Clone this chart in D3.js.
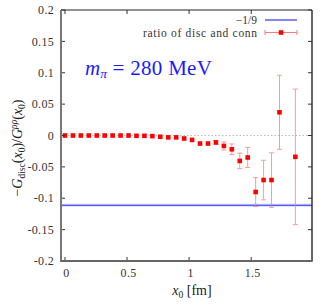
<!DOCTYPE html>
<html><head><meta charset="utf-8">
<script src="https://cdn.jsdelivr.net/npm/d3@7"></script>
<style>body{margin:0;background:#fff}svg{display:block}text{font-family:"Liberation Serif","DejaVu Serif",serif}</style>
</head><body><svg id="c" width="324" height="305"></svg>
<script>
const latticeIdx = [0,1,2,3,4,5,6,7,8,9,10,11,12,13,14,15,16,17,18,19,20,21,22,23,24,25,26,27,29];
const spacing = 0.064;
const ratio = [0,0,0,0,0,0,0,0,0,-0.0005,-0.0005,-0.001,-0.002,-0.003,-0.003,-0.0048,-0.007,-0.0128,-0.0128,-0.011,-0.0166,-0.022,-0.0405,-0.035,-0.090,-0.071,-0.071,0.037,-0.034];
const ratioErr = [0,0,0,0,0,0,0,0,0,0,0,0,0,0,0,0,0.0005,0.001,0.001,0.003,0.0064,0.0085,0.0123,0.016,0.023,0.0315,0.0434,0.059,0.108];
const yTicks = [0.2,0.15,0.1,0.05,0,-0.05,-0.1,-0.15,-0.2];
const xTicks = [0,0.5,1,1.5];
const refValue = -1/9;

const svg = d3.select("#c");
const L=61,R=312,T=10,B=261;
const x = d3.scaleLinear().domain([-0.032,1.99]).range([L,R]);
const y = d3.scaleLinear().domain([-0.2,0.2]).range([B,T]);
const data = latticeIdx.map((n,i)=>({x:n*spacing,v:ratio[i],e:ratioErr[i]}));

// zero dotted line
svg.append("line").attr("x1",L).attr("x2",R).attr("y1",y(0)).attr("y2",y(0))
  .attr("stroke","#aaa").attr("stroke-width",0.8).attr("stroke-dasharray","1.5,2");
// -1/9 line
svg.append("line").attr("x1",L).attr("x2",R).attr("y1",y(refValue)).attr("y2",y(refValue))
  .attr("stroke","#d4d4ff").attr("stroke-width",3);
svg.append("line").attr("x1",L).attr("x2",R).attr("y1",y(refValue)).attr("y2",y(refValue))
  .attr("stroke","#3333ee").attr("stroke-width",1.1);

// error bars
const eb = svg.append("g").attr("stroke","#f47c7c").attr("stroke-width",1).attr("opacity",0.75);
data.filter(d=>d.e>0.0015).forEach(d=>{
  eb.append("line").attr("x1",x(d.x)).attr("x2",x(d.x)).attr("y1",y(d.v+d.e)).attr("y2",y(d.v-d.e));
  [d.v+d.e,d.v-d.e].forEach(v=>eb.append("line").attr("x1",x(d.x)-2.5).attr("x2",x(d.x)+2.5).attr("y1",y(v)).attr("y2",y(v)));
});
// points
svg.append("g").selectAll("rect").data(data).join("rect")
  .attr("x",d=>x(d.x)-2.3).attr("y",d=>y(d.v)-2.3).attr("width",4.6).attr("height",4.6).attr("fill","#f00");

// axes ticks
const ax = svg.append("g").attr("stroke","#333").attr("stroke-width",1);
yTicks.forEach(t=>{
  ax.append("line").attr("x1",L).attr("x2",L+4).attr("y1",y(t)).attr("y2",y(t));
  ax.append("line").attr("x1",R-4).attr("x2",R).attr("y1",y(t)).attr("y2",y(t));
});
xTicks.forEach(t=>{
  ax.append("line").attr("x1",x(t)).attr("x2",x(t)).attr("y1",B).attr("y2",B-4);
  ax.append("line").attr("x1",x(t)).attr("x2",x(t)).attr("y1",T).attr("y2",T+4);
});
// frame
svg.append("line").attr("x1",L).attr("x2",R).attr("y1",T).attr("y2",T).attr("stroke","#222").attr("stroke-width",1);
svg.append("line").attr("x1",R).attr("x2",R).attr("y1",T).attr("y2",B).attr("stroke","#333").attr("stroke-width",1.5);
svg.append("line").attr("x1",L).attr("x2",L).attr("y1",T).attr("y2",B+1).attr("stroke","#777").attr("stroke-width",2);
svg.append("line").attr("x1",L).attr("x2",R+0.7).attr("y1",B).attr("y2",B).attr("stroke","#666").attr("stroke-width",2);

// tick labels
const tl = svg.append("g").attr("font-size",12).attr("fill","#333");
yTicks.forEach(t=>tl.append("text").attr("x",54).attr("y",y(t)).attr("dy","0.35em").attr("text-anchor","end").attr("letter-spacing",0.3).text(String(t)));
xTicks.forEach(t=>tl.append("text").attr("x",x(t)+1.5).attr("y",277).attr("text-anchor","middle").attr("letter-spacing",0.3).text(String(t)));

// x title
const xt = svg.append("text").attr("x",192).attr("y",295).attr("text-anchor","middle").attr("font-size",14).attr("fill","#222");
xt.append("tspan").attr("font-style","italic").text("x");
xt.append("tspan").attr("font-size",9.5).attr("dy",3).text("0");
xt.append("tspan").attr("dy",-3).text(" [fm]");

// y title
const yt = svg.append("text").attr("transform","translate(22,148) rotate(-90)").attr("text-anchor","middle").attr("font-size",14).attr("fill","#222");
yt.append("tspan").text("−");
yt.append("tspan").attr("font-style","italic").text("G");
yt.append("tspan").attr("font-size",9.5).attr("dy",3).text("disc");
yt.append("tspan").attr("dy",-3).text("(");
yt.append("tspan").attr("font-style","italic").text("x");
yt.append("tspan").attr("font-size",9.5).attr("dy",3).text("0");
yt.append("tspan").attr("dy",-3).text(")/");
yt.append("tspan").attr("font-style","italic").text("G");
yt.append("tspan").attr("font-size",9.5).attr("font-style","italic").attr("dy",-5).text("ρρ");
yt.append("tspan").attr("dy",5).text("(");
yt.append("tspan").attr("font-style","italic").text("x");
yt.append("tspan").attr("font-size",9.5).attr("dy",3).text("0");
yt.append("tspan").attr("dy",-3).text(")");

// annotation
const an = svg.append("text").attr("x",85).attr("y",75).attr("font-size",21).attr("fill","#1a1aff");
an.append("tspan").attr("font-style","italic").text("m");
an.append("tspan").attr("font-style","italic").attr("font-size",13.5).attr("dy",3).text("π");
an.append("tspan").attr("dy",-3).attr("letter-spacing",0.3).text(" = 280 MeV");

// legend
const lg = svg.append("g").attr("font-size",11.5).attr("fill","#333");
lg.append("text").attr("x",257).attr("y",20).attr("dy","0.35em").attr("text-anchor","end").text("−1/9");
lg.append("line").attr("x1",265).attr("x2",297).attr("y1",20).attr("y2",20).attr("stroke","#3333ee").attr("stroke-width",1.2);
lg.append("text").attr("x",257).attr("y",32.5).attr("dy","0.35em").attr("text-anchor","end").attr("textLength",114).attr("lengthAdjust","spacing").text("ratio of disc and conn");
const le = lg.append("g").attr("stroke","#f47c7c").attr("stroke-width",1);
le.append("line").attr("x1",265).attr("x2",297).attr("y1",32.5).attr("y2",32.5);
le.append("line").attr("x1",265).attr("x2",265).attr("y1",30).attr("y2",35);
le.append("line").attr("x1",297).attr("x2",297).attr("y1",30).attr("y2",35);
lg.append("rect").attr("x",281-2.3).attr("y",32.5-2.3).attr("width",4.6).attr("height",4.6).attr("fill","#f00");
</script></body></html>
